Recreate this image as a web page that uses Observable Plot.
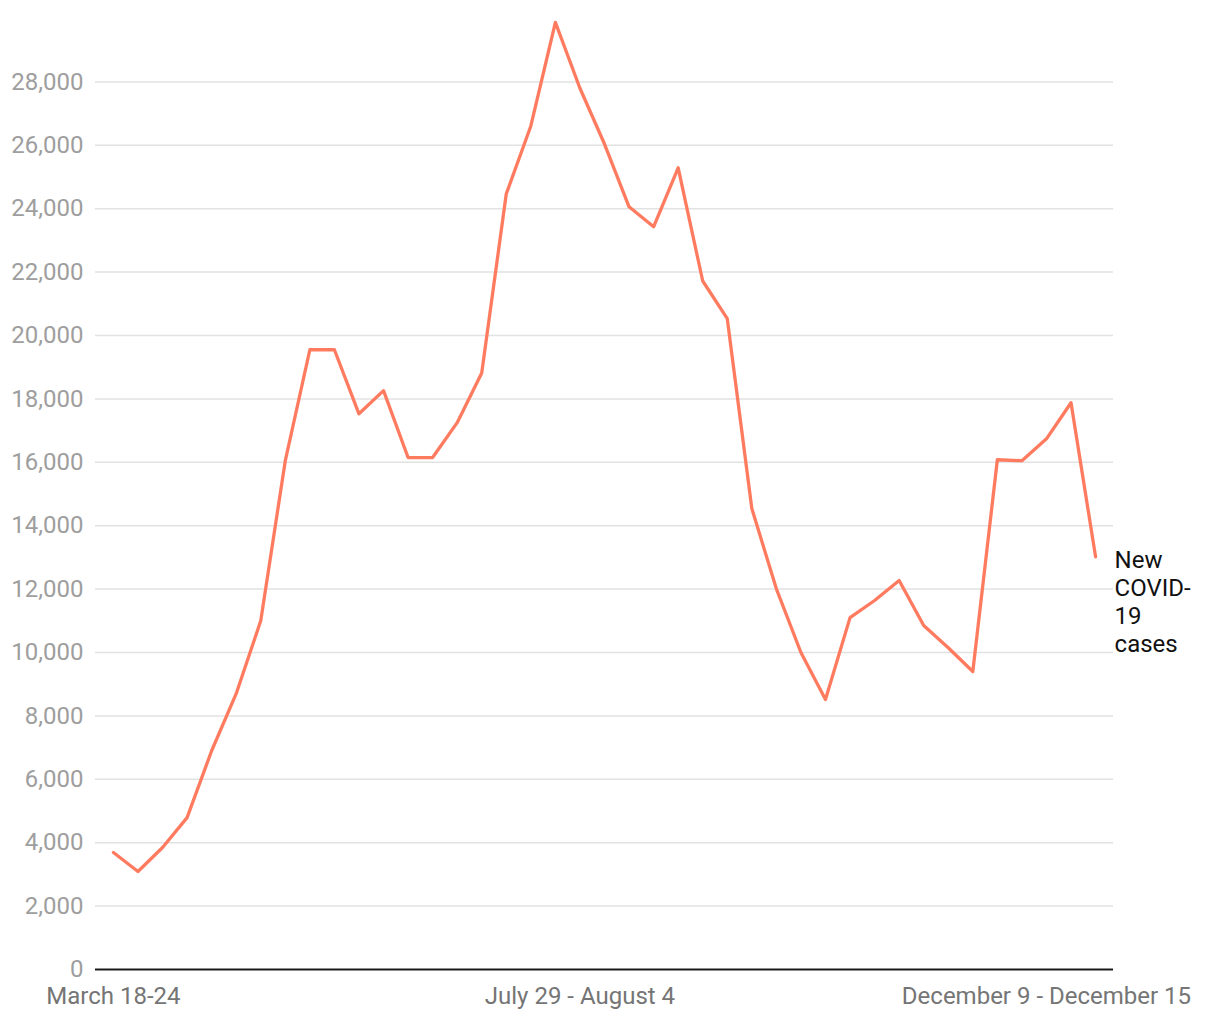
<!DOCTYPE html>
<html>
<head>
<meta charset="utf-8">
<script src="https://cdn.jsdelivr.net/npm/d3@7"></script>
<script src="https://cdn.jsdelivr.net/npm/@observablehq/plot@0.6"></script>
<style>
  html, body { margin: 0; padding: 0; background: #fff; }
  #chart svg { display: block; font-family: Roboto, "Noto Sans", sans-serif; }
</style>
</head>
<body>
<div id="chart"></div>
<script>
const weeks = [
  "March 18-24", "March 25-31", "April 1-7", "April 8-14", "April 15-21",
  "April 22-28", "April 29 - May 5", "May 6-12", "May 13-19", "May 20-26",
  "May 27 - June 2", "June 3-9", "June 10-16", "June 17-23", "June 24-30",
  "July 1-7", "July 8-14", "July 15-21", "July 22-28", "July 29 - August 4",
  "August 5-11", "August 12-18", "August 19-25", "August 26 - September 1", "September 2-8",
  "September 9-15", "September 16-22", "September 23-29", "September 30 - October 6", "October 7-13",
  "October 14-20", "October 21-27", "October 28 - November 3", "November 4-10", "November 11-17",
  "November 18-24", "November 25 - December 1", "December 2-8", "December 9 - December 15", "December 16-22",
  "December 23-29"
];
const cases = [
  3690, 3090, 3850, 4790, 6900,
  8700, 11000, 16050, 19550, 19550,
  17530, 18260, 16150, 16150, 17250,
  18820, 24470, 26610, 29880, 27800,
  26040, 24060, 23430, 25290, 21720,
  20530, 14540, 12010, 10000, 8520,
  11100, 11640, 12270, 10850, 10150,
  9400, 16080, 16050, 16740, 17880,
  13020
];
const xTicks = ["March 18-24", "July 29 - August 4", "December 9 - December 15"];
const yTicks = [0, 2000, 4000, 6000, 8000, 10000, 12000, 14000, 16000, 18000, 20000, 22000, 24000, 26000, 28000];
const seriesLabel = "New\nCOVID-\n19\ncases";

const data = weeks.map((w, i) => ({week: w, value: cases[i]}));
const last = data[data.length - 1];

const chart = Plot.plot({
  width: 1220,
  height: 1020,
  marginLeft: 95,
  marginRight: 107,
  marginTop: 18,
  marginBottom: 51,
  style: {fontFamily: "Roboto, 'Noto Sans', sans-serif", fontSize: "24px", background: "#fff"},
  x: {type: "point", domain: weeks, padding: 0.73, round: false},
  y: {domain: [0, 30000]},
  marks: [
    Plot.ruleY(yTicks.filter(d => d > 0), {stroke: "#e2e2e2", strokeWidth: 1.5}),
    Plot.axisY({ticks: yTicks, tickSize: 0, tickPadding: 12, tickFormat: d3.format(","), fill: "#9e9e9e", fontSize: 24, label: null}),
    Plot.axisX({ticks: xTicks, tickSize: 0, tickPadding: 17, fill: "#757575", fontSize: 24, label: null}),
    Plot.ruleY([0], {stroke: "#1a1a1a", strokeWidth: 2}),
    Plot.line(data, {x: "week", y: "value", stroke: "#ff7b60", strokeWidth: 3.3, strokeLinejoin: "round"}),
    Plot.text([last], {x: "week", y: "value", text: () => seriesLabel, textAnchor: "start", lineAnchor: "top", dx: 19, dy: -9, lineHeight: 1.17, fill: "#111", fontSize: 24})
  ]
});
document.getElementById("chart").appendChild(chart);
</script>
</body>
</html>
